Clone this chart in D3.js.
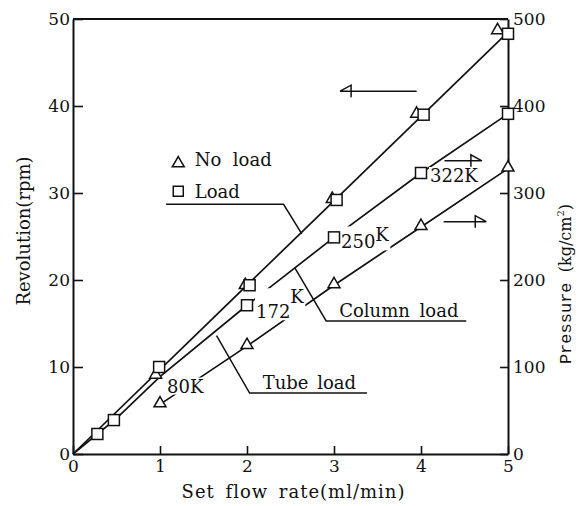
<!DOCTYPE html>
<html>
<head>
<meta charset="utf-8">
<script src="https://cdn.jsdelivr.net/npm/d3@7/dist/d3.min.js"></script>
<style>
  body { margin: 0; background: #fff; }
  text { font-family: "DejaVu Serif", serif; fill: #111; }
</style>
</head>
<body>
<div id="chart"></div>
<script>
// ---- data ----
// revolution (rpm, left axis)
var noLoadX   = [0.95, 1.98, 2.98, 3.95, 4.88];
var noLoadRev = [9.0, 19.3, 29.2, 39.0, 48.6];
var loadX     = [0.28, 0.47, 0.99, 2.03, 3.03, 4.03, 5.0];
var loadRev   = [2.3, 3.9, 10.0, 19.4, 29.2, 39.0, 48.3];
var revLineX  = [0, 5];
var revLine   = [0, 48.5];
// pressure (kg/cm2, right axis)
var columnX     = [2, 3, 4, 5];
var columnPress = [171, 249, 323, 391];
var columnLineX = [0, 0.5, 1, 2, 3, 4, 5];
var columnLine  = [0, 41, 89, 171, 249, 323, 391];
var tubeX       = [1, 2, 3, 4, 5];
var tubePress   = [57, 124, 194, 261, 328];
// temperature labels
var tempNums  = ["80", "172", "250", "322"];
// ticks
var xTicks     = [0, 1, 2, 3, 4, 5];
var revTicks   = [0, 10, 20, 30, 40, 50];
var pressTicks = [0, 100, 200, 300, 400, 500];

var width = 586, height = 506;
var margin = {top: 19, right: 78, bottom: 52, left: 73};

var svg = d3.select("#chart").append("svg")
  .attr("width", width).attr("height", height);

var x = d3.scaleLinear().domain([0, 5]).range([margin.left, width - margin.right]);
var y = d3.scaleLinear().domain([0, 50]).range([height - margin.bottom, margin.top]);
var yP = d3.scaleLinear().domain([0, 500]).range([height - margin.bottom, margin.top]);

///////////////////////////// axes /////////////////////////////
function styleAxis(g) {
  g.select(".domain").attr("stroke", "#111").attr("stroke-width", 2);
  g.selectAll(".tick line").attr("stroke", "#111").attr("stroke-width", 1.6);
  g.selectAll(".tick text").style("font-size", "17px").attr("fill", "#111")
    .style("font-family", "'DejaVu Serif', serif");
}
svg.append("g")
  .attr("transform", "translate(0," + y(0) + ")")
  .call(d3.axisBottom(x).tickValues(xTicks).tickFormat(d3.format("d"))
    .tickSize(-8).tickSizeOuter(0).tickPadding(6))
  .call(styleAxis);
svg.append("g")
  .attr("transform", "translate(" + x(0) + ",0)")
  .call(d3.axisLeft(y).tickValues(revTicks).tickSize(-10).tickSizeOuter(0).tickPadding(3))
  .call(styleAxis);
svg.append("g")
  .attr("transform", "translate(" + x(5) + ",0)")
  .call(d3.axisRight(yP).tickValues(pressTicks).tickSize(-8).tickSizeOuter(0).tickPadding(5))
  .call(styleAxis);
// top frame
svg.append("line")
  .attr("x1", x(0)).attr("x2", x(5)).attr("y1", y(50)).attr("y2", y(50))
  .attr("stroke", "#111").attr("stroke-width", 2);

// axis titles
svg.append("text")
  .attr("x", (x(0) + x(5)) / 2 + 3).attr("y", 498)
  .attr("text-anchor", "middle")
  .style("font-size", "18px").style("letter-spacing", "1px").style("word-spacing", "4px")
  .text("Set flow rate(ml/min)");
svg.append("text")
  .attr("transform", "translate(30,231) rotate(-90)")
  .attr("text-anchor", "middle")
  .style("font-size", "18px")
  .text("Revolution(rpm)");
var pt = svg.append("text")
  .attr("transform", "translate(571,284) rotate(-90)")
  .attr("text-anchor", "middle")
  .style("font-size", "16px");
pt.append("tspan").style("font-family", "'Liberation Mono', 'DejaVu Sans Mono', monospace")
  .style("font-size", "17px").text("Pressure ");
pt.append("tspan").text("(kg/cm");
pt.append("tspan").attr("dy", -7).style("font-size", "10px").text("2");
pt.append("tspan").attr("dy", 7).text(")");

///////////////////////////// lines /////////////////////////////
var lineR = d3.line().x(function(d) { return x(d[0]); }).y(function(d) { return y(d[1]); });
var lineP = d3.line().x(function(d) { return x(d[0]); }).y(function(d) { return yP(d[1]); });

svg.append("path").attr("d", lineR(d3.zip(revLineX, revLine)))
  .attr("fill", "none").attr("stroke", "#111").attr("stroke-width", 1.7);
svg.append("path").attr("d", lineP(d3.zip(columnLineX, columnLine)))
  .attr("fill", "none").attr("stroke", "#111").attr("stroke-width", 1.7);
svg.append("path").attr("d", lineP(d3.zip(tubeX, tubePress)))
  .attr("fill", "none").attr("stroke", "#111").attr("stroke-width", 1.7);

///////////////////////////// temperature labels /////////////////////////////
var tempPos = [
  {px: x(1) + 7,  py: yP(89) + 16, sup: 0},
  {px: x(2) + 9,  py: yP(171) + 13, sup: 15},
  {px: x(3) + 7,  py: yP(249) + 11, sup: 7},
  {px: x(4) + 9,  py: yP(323) + 9, sup: 0}
];
tempNums.forEach(function(t, i) {
  var p = tempPos[i];
  var g = svg.append("g");
  var txt = g.append("text").attr("x", p.px).attr("y", p.py).style("font-size", "18px");
  txt.append("tspan").text(t);
  txt.append("tspan").attr("dy", -p.sup).text("K");
  var bb = txt.node().getBBox();
  g.insert("rect", "text").attr("x", bb.x - 1).attr("y", bb.y + 2)
    .attr("width", bb.width + 2).attr("height", bb.height - 4).attr("fill", "#fff");
});

///////////////////////////// markers /////////////////////////////
var tri = d3.symbol().type(d3.symbolTriangle).size(62);
function triangles(xs, ys, sc) {
  svg.append("g").selectAll("path").data(d3.zip(xs, ys)).enter().append("path")
    .attr("d", tri)
    .attr("transform", function(d) { return "translate(" + x(d[0]) + "," + (sc(d[1]) - 1) + ")"; })
    .attr("fill", "#fff").attr("stroke", "#111").attr("stroke-width", 1.5);
}
function squares(xs, ys, sc) {
  svg.append("g").selectAll("rect").data(d3.zip(xs, ys)).enter().append("rect")
    .attr("x", function(d) { return x(d[0]) - 5.5; })
    .attr("y", function(d) { return sc(d[1]) - 5.5; })
    .attr("width", 11).attr("height", 11)
    .attr("fill", "#fff").attr("stroke", "#111").attr("stroke-width", 1.5);
}
triangles(noLoadX, noLoadRev, y);
squares(loadX, loadRev, y);
squares(columnX, columnPress, yP);
triangles(tubeX, tubePress, yP);

///////////////////////////// legend /////////////////////////////
svg.append("path").attr("d", tri)
  .attr("transform", "translate(" + x(1.21) + "," + y(33.4) + ")")
  .attr("fill", "#fff").attr("stroke", "#111").attr("stroke-width", 1.5);
svg.append("text").attr("x", x(1.4)).attr("y", y(33.1)).style("font-size", "18px")
  .style("white-space", "pre").text("No  load");
svg.append("rect").attr("x", x(1.21) - 5).attr("y", y(30.2) - 5).attr("width", 10).attr("height", 10)
  .attr("fill", "#fff").attr("stroke", "#111").attr("stroke-width", 1.5);
svg.append("text").attr("x", x(1.4)).attr("y", y(29.4)).style("font-size", "18px").text("Load");

///////////////////////////// leaders /////////////////////////////
function leader(pts) {
  svg.append("path").attr("d", d3.line()(pts.map(function(p) { return [x(p[0]), y(p[1])]; })))
    .attr("fill", "none").attr("stroke", "#111").attr("stroke-width", 1.5);
}
leader([[1.07, 28.7], [2.42, 28.7], [2.63, 25.3]]);
leader([[3.38, 7.0], [2.03, 7.0], [1.65, 13.6]]);
leader([[4.52, 15.3], [2.91, 15.3], [2.55, 21.4]]);
svg.append("text").attr("x", x(2.18)).attr("y", y(7.5)).style("font-size", "18px")
  .style("word-spacing", "3px").text("Tube load");
svg.append("text").attr("x", x(3.06)).attr("y", y(15.8)).style("font-size", "18px")
  .style("word-spacing", "4px").text("Column load");

///////////////////////////// direction arrows /////////////////////////////
function arrow(x0, x1, yv, dir) {
  var a = x(x1), b = x(x0), yy = y(yv), h = dir * 11;
  svg.append("path")
    .attr("d", "M" + b + "," + yy + "H" + a + "L" + (a - h) + "," + (yy - 6) + "V" + (yy + 6))
    .attr("fill", "none").attr("stroke", "#111").attr("stroke-width", 1.5);
}
arrow(3.95, 3.07, 41.7, -1);
arrow(4.27, 4.7, 33.7, 1);
arrow(4.26, 4.75, 26.7, 1);
</script>
</body>
</html>
